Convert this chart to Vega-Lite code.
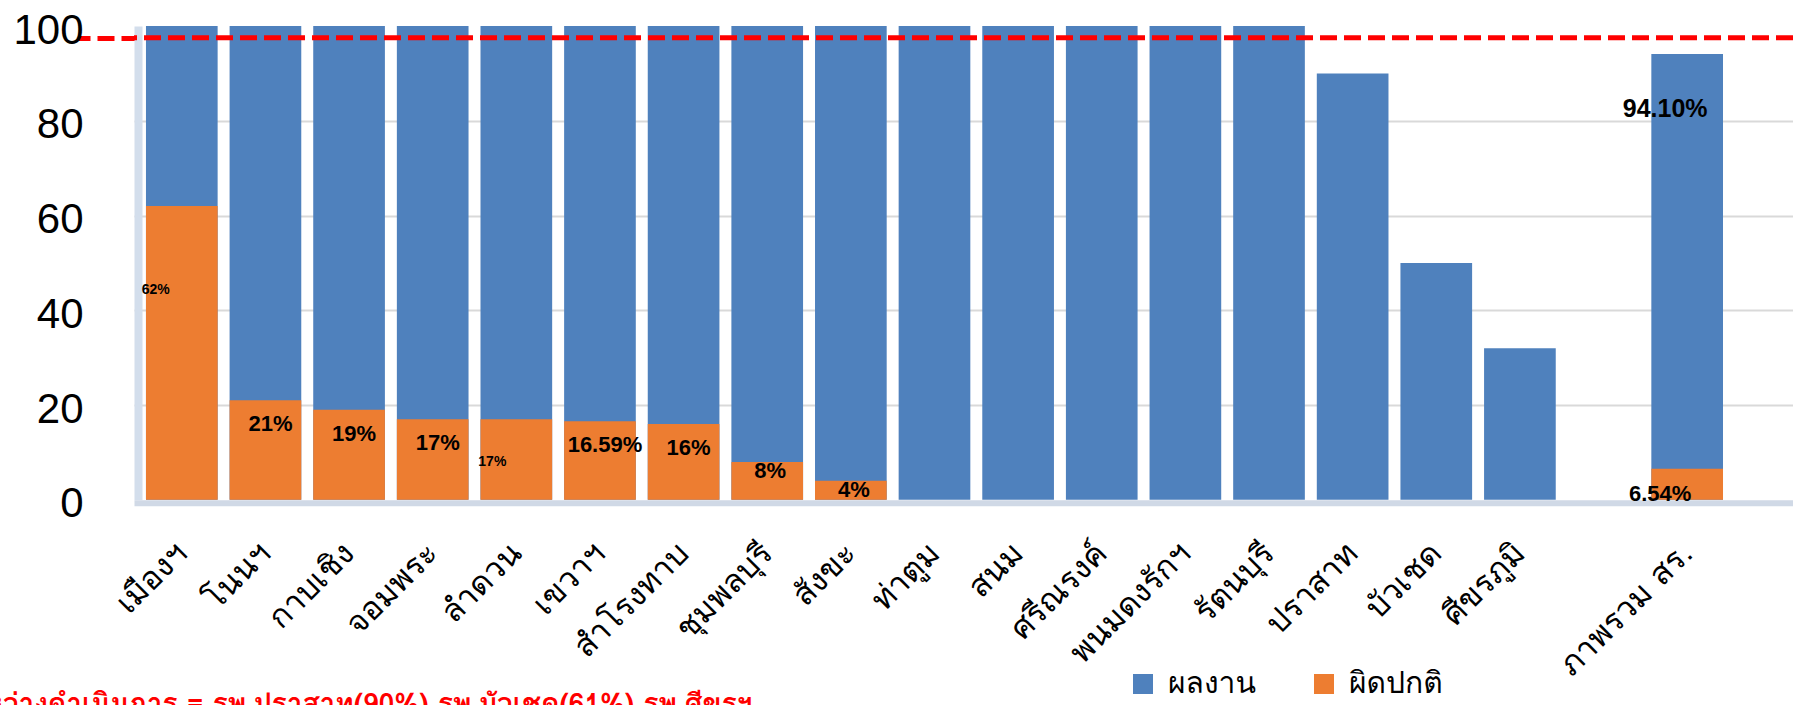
{
  "$schema": "https://vega.github.io/schema/vega-lite/v6.json",
  "width": 1659,
  "height": 473.8,
  "autosize": {"type": "none"},
  "padding": {"left": 134, "top": 26, "right": 0, "bottom": 205.2},
  "background": "white",
  "config": {"view": {"stroke": null}},
  "data": {
    "values": [
      {"hospital": "เมืองฯ", "series": "ผลงาน", "value": 100},
      {"hospital": "โนนฯ", "series": "ผลงาน", "value": 100},
      {"hospital": "กาบเชิง", "series": "ผลงาน", "value": 100},
      {"hospital": "จอมพระ", "series": "ผลงาน", "value": 100},
      {"hospital": "ลำดวน", "series": "ผลงาน", "value": 100},
      {"hospital": "เขวาฯ", "series": "ผลงาน", "value": 100},
      {"hospital": "สำโรงทาบ", "series": "ผลงาน", "value": 100},
      {"hospital": "ชุมพลบุรี", "series": "ผลงาน", "value": 100},
      {"hospital": "สังขะ", "series": "ผลงาน", "value": 100},
      {"hospital": "ท่าตูม", "series": "ผลงาน", "value": 100},
      {"hospital": "สนม", "series": "ผลงาน", "value": 100},
      {"hospital": "ศรีณรงค์", "series": "ผลงาน", "value": 100},
      {"hospital": "พนมดงรักฯ", "series": "ผลงาน", "value": 100},
      {"hospital": "รัตนบุรี", "series": "ผลงาน", "value": 100},
      {"hospital": "ปราสาท", "series": "ผลงาน", "value": 90},
      {"hospital": "บัวเชด", "series": "ผลงาน", "value": 50},
      {"hospital": "ศีขรภูมิ", "series": "ผลงาน", "value": 32},
      {"hospital": "ภาพรวม สร.", "series": "ผลงาน", "value": 94.1, "label": "94.10%"},
      {"hospital": "เมืองฯ", "series": "ผิดปกติ", "value": 62, "label": "62%"},
      {"hospital": "โนนฯ", "series": "ผิดปกติ", "value": 21, "label": "21%"},
      {"hospital": "กาบเชิง", "series": "ผิดปกติ", "value": 19, "label": "19%"},
      {"hospital": "จอมพระ", "series": "ผิดปกติ", "value": 17, "label": "17%"},
      {"hospital": "ลำดวน", "series": "ผิดปกติ", "value": 17, "label": "17%"},
      {"hospital": "เขวาฯ", "series": "ผิดปกติ", "value": 16.59, "label": "16.59%"},
      {"hospital": "สำโรงทาบ", "series": "ผิดปกติ", "value": 16, "label": "16%"},
      {"hospital": "ชุมพลบุรี", "series": "ผิดปกติ", "value": 8, "label": "8%"},
      {"hospital": "สังขะ", "series": "ผิดปกติ", "value": 4, "label": "4%"},
      {"hospital": "ภาพรวม สร.", "series": "ผิดปกติ", "value": 6.54, "label": "6.54%"}
    ]
  },
  "layer": [
    {
      "mark": {"type": "bar"},
      "encoding": {
        "x": {
          "field": "hospital",
          "type": "nominal",
          "sort": null,
          "scale": {
            "domain": ["เมืองฯ", "โนนฯ", "กาบเชิง", "จอมพระ", "ลำดวน", "เขวาฯ", "สำโรงทาบ", "ชุมพลบุรี", "สังขะ", "ท่าตูม", "สนม", "ศรีณรงค์", "พนมดงรักฯ", "รัตนบุรี", "ปราสาท", "บัวเชด", "ศีขรภูมิ", " ", "ภาพรวม สร."],
            "paddingInner": 0.143,
            "paddingOuter": 0.49,
            "align": 0.146
          },
          "axis": {
            "title": "อยู่ระหว่างดำเนินการ = รพ.ปราสาท(90%) รพ.บัวเชด(61%) รพ.ศีขรฯ",
            "titleColor": "#ff0000",
            "titleFont": "Tahoma, Loma, Waree, Garuda, Kinnari, 'Noto Sans Thai Looped', 'Noto Sans Thai', sans-serif",
            "titleFontSize": 28,
            "titleFontWeight": "bold",
            "titleX": 618,
            "titleY": 210,
            "titleAlign": "right",
            "titleBaseline": "alphabetic",
            "titleLimit": 3000,
            "labelAngle": -45,
            "labelAlign": "right",
            "labelBaseline": "middle",
            "labelFont": "Tahoma, Loma, Waree, Garuda, Kinnari, 'Noto Sans Thai Looped', 'Noto Sans Thai', sans-serif",
            "labelFontSize": 32,
            "labelColor": "#000000",
            "labelPadding": 45,
            "labelOverlap": false,
            "labelBound": false,
            "labelLimit": 400,
            "ticks": false,
            "tickSize": 0,
            "domainColor": "#d0d9e6",
            "domainWidth": 6,
            "offset": 3
          }
        },
        "y": {
          "field": "value",
          "type": "quantitative",
          "stack": null,
          "scale": {"domain": [0, 100], "nice": false, "zero": true},
          "axis": {
            "title": null,
            "values": [0, 20, 40, 60, 80, 97.5, 100],
            "labelExpr": "datum.value == 97.5 ? '' : datum.label",
            "labelFont": "Liberation Sans",
            "labelFontSize": 42,
            "labelColor": "#000000",
            "labelPadding": -5,
            "labelOffset": 4,
            "labelOverlap": false,
            "labelBound": false,
            "tickSize": 60,
            "tickWidth": 5,
            "tickDash": [17, 7],
            "tickColor": {"condition": {"test": "datum.value == 97.5", "value": "#ff0000"}, "value": "transparent"},
            "domainColor": "#d3deec",
            "domainWidth": 8,
            "offset": -4,
            "grid": true,
            "gridWidth": 2,
            "gridColor": {"condition": {"test": "datum.value == 0 || datum.value > 90", "value": "transparent"}, "value": "#d9d9d9"}
          }
        },
        "color": {
          "field": "series",
          "type": "nominal",
          "scale": {"domain": ["ผลงาน", "ผิดปกติ"], "range": ["#4f81bd", "#ed7d31"]},
          "legend": {
            "title": null,
            "orient": "none",
            "legendX": 994,
            "legendY": 643,
            "direction": "horizontal",
            "symbolType": "square",
            "symbolSize": 400,
            "symbolStrokeWidth": 0,
            "labelFont": "Tahoma, Loma, Waree, Garuda, Kinnari, 'Noto Sans Thai Looped', 'Noto Sans Thai', sans-serif",
            "labelFontSize": 30,
            "labelColor": "#000000",
            "labelOffset": 10,
            "columnPadding": 53,
            "labelLimit": 300
          }
        }
      }
    },
    {
      "data": {"values": [{"target": 97.5}]},
      "mark": {"type": "rule", "color": "#ff0000", "strokeWidth": 5, "strokeDash": [17, 7]},
      "encoding": {"y": {"field": "target", "type": "quantitative"}}
    },
    {
      "transform": [{"filter": "datum.series == 'ผิดปกติ' && indexof(['โนนฯ', 'กาบเชิง', 'จอมพระ', 'เขวาฯ', 'สำโรงทาบ'], datum.hospital) >= 0"}],
      "mark": {"type": "text", "font": "Liberation Sans", "fontWeight": "bold", "fontSize": 22, "baseline": "middle", "dx": 5, "dy": 24, "color": "#000000"},
      "encoding": {
        "x": {"field": "hospital", "type": "nominal", "sort": null},
        "y": {"field": "value", "type": "quantitative"},
        "text": {"field": "label"}
      }
    },
    {
      "transform": [{"filter": "datum.series == 'ผิดปกติ' && indexof(['ชุมพลบุรี', 'สังขะ'], datum.hospital) >= 0"}],
      "mark": {"type": "text", "font": "Liberation Sans", "fontWeight": "bold", "fontSize": 22, "baseline": "middle", "dx": 3, "dy": 9, "color": "#000000"},
      "encoding": {
        "x": {"field": "hospital", "type": "nominal", "sort": null},
        "y": {"field": "value", "type": "quantitative"},
        "text": {"field": "label"}
      }
    },
    {
      "transform": [{"filter": "datum.series == 'ผิดปกติ' && datum.hospital == 'เมืองฯ'"}],
      "mark": {"type": "text", "font": "Liberation Sans", "fontWeight": "bold", "fontSize": 14, "baseline": "middle", "dx": -26, "dy": 84, "color": "#000000"},
      "encoding": {
        "x": {"field": "hospital", "type": "nominal", "sort": null},
        "y": {"field": "value", "type": "quantitative"},
        "text": {"field": "label"}
      }
    },
    {
      "transform": [{"filter": "datum.series == 'ผิดปกติ' && datum.hospital == 'ลำดวน'"}],
      "mark": {"type": "text", "font": "Liberation Sans", "fontWeight": "bold", "fontSize": 14, "baseline": "middle", "dx": -24, "dy": 43, "color": "#000000"},
      "encoding": {
        "x": {"field": "hospital", "type": "nominal", "sort": null},
        "y": {"field": "value", "type": "quantitative"},
        "text": {"field": "label"}
      }
    },
    {
      "transform": [{"filter": "datum.series == 'ผิดปกติ' && datum.hospital == 'ภาพรวม สร.'"}],
      "mark": {"type": "text", "font": "Liberation Sans", "fontWeight": "bold", "fontSize": 22, "baseline": "middle", "dx": -27, "dy": 25, "color": "#000000"},
      "encoding": {
        "x": {"field": "hospital", "type": "nominal", "sort": null},
        "y": {"field": "value", "type": "quantitative"},
        "text": {"field": "label"}
      }
    },
    {
      "transform": [{"filter": "datum.series == 'ผลงาน' && datum.hospital == 'ภาพรวม สร.'"}],
      "mark": {"type": "text", "font": "Liberation Sans", "fontWeight": "bold", "fontSize": 25, "baseline": "middle", "dx": -22, "dy": 55, "color": "#000000"},
      "encoding": {
        "x": {"field": "hospital", "type": "nominal", "sort": null},
        "y": {"field": "value", "type": "quantitative"},
        "text": {"field": "label"}
      }
    }
  ]
}
